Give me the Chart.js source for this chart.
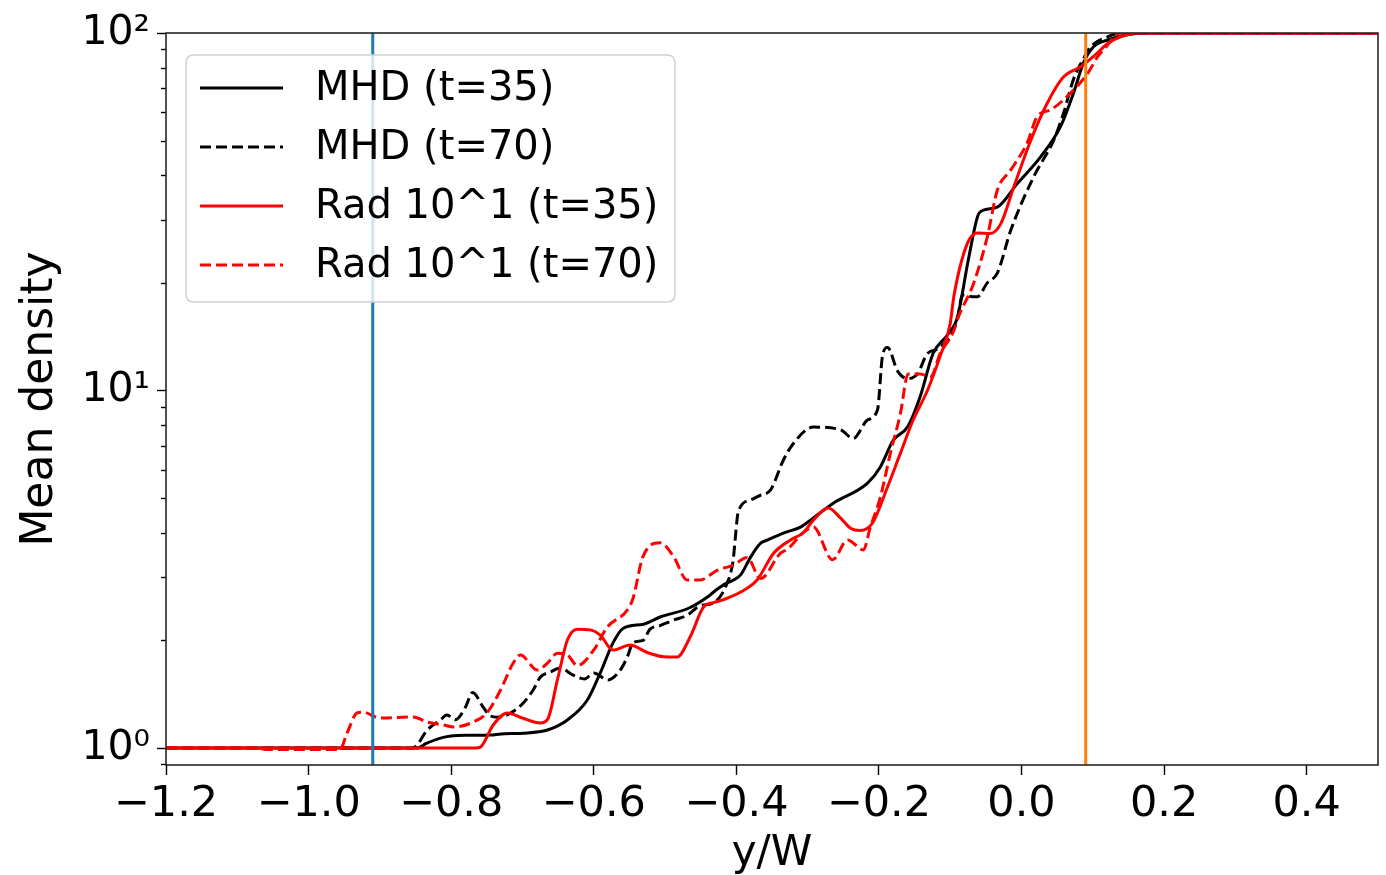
<!DOCTYPE html>
<html>
<head>
<meta charset="utf-8">
<script src="https://cdn.jsdelivr.net/npm/chart.js@4.4.1/dist/chart.umd.min.js"></script>
<style>
  html, body { margin: 0; padding: 0; background: #ffffff; }
  #wrap { width: 1386px; height: 875px; }
</style>
</head>
<body>
<div id="wrap"><canvas id="c" width="1386" height="875"></canvas></div>
<script>
// ---------------- data ----------------
const xMHD35 = [-1.2, -0.86, -0.848, -0.835, -0.815, -0.80, -0.78, -0.745, -0.73, -0.70, -0.665, -0.637, -0.609, -0.591, -0.573, -0.559, -0.53, -0.507, -0.467, -0.44, -0.43, -0.418, -0.404, -0.394, -0.38, -0.366, -0.356, -0.334, -0.31, -0.296, -0.264, -0.216, -0.198, -0.18, -0.16, -0.142, -0.124, -0.104, -0.09, -0.075, -0.062, -0.058, -0.034, -0.006, 0.027, 0.055, 0.073, 0.087, 0.101, 0.121, 0.15, 0.17, 0.5];
const yMHD35 = [1.0, 1.0, 1.0, 1.03, 1.066, 1.08, 1.085, 1.087, 1.095, 1.10, 1.123, 1.198, 1.362, 1.62, 1.968, 2.16, 2.22, 2.325, 2.46, 2.65, 2.75, 2.86, 2.95, 3.05, 3.42, 3.74, 3.82, 3.99, 4.15, 4.34, 4.84, 5.51, 6.11, 7.26, 7.9, 9.64, 12.7, 14.3, 16.0, 23.0, 30.5, 31.6, 32.6, 37.9, 45.1, 54.9, 68.0, 82.6, 91.5, 95.6, 99.0, 100, 100];

const xMHD70 = [-1.2, -0.855, -0.848, -0.834, -0.815, -0.806, -0.794, -0.78, -0.77, -0.755, -0.745, -0.735, -0.705, -0.685, -0.675, -0.661, -0.647, -0.629, -0.613, -0.60, -0.58, -0.563, -0.553, -0.545, -0.531, -0.521, -0.507, -0.488, -0.469, -0.451, -0.432, -0.413, -0.405, -0.397, -0.38, -0.366, -0.352, -0.334, -0.32, -0.292, -0.254, -0.236, -0.216, -0.202, -0.195, -0.188, -0.174, -0.16, -0.146, -0.132, -0.114, -0.09, -0.083, -0.069, -0.062, -0.048, -0.034, -0.015, 0.017, 0.045, 0.059, 0.073, 0.086, 0.097, 0.121, 0.139, 0.5];
const yMHD70 = [1.0, 1.0, 1.019, 1.12, 1.198, 1.237, 1.20, 1.3, 1.43, 1.30, 1.23, 1.22, 1.30, 1.453, 1.578, 1.63, 1.673, 1.60, 1.56, 1.62, 1.55, 1.65, 1.797, 1.968, 2.0, 2.15, 2.2, 2.28, 2.35, 2.5, 2.545, 2.89, 3.3, 4.6, 4.94, 5.1, 5.27, 6.39, 7.11, 7.9, 7.77, 7.34, 8.27, 8.83, 12.5, 13.2, 11.35, 10.8, 11.13, 12.69, 13.2, 15.8, 18.5, 18.3, 18.3, 20.0, 21.3, 28.1, 39.6, 50.1, 59.7, 74.3, 84.1, 91.5, 97.6, 100, 100];

const xRad35 = [-1.2, -0.766, -0.759, -0.741, -0.721, -0.70, -0.675, -0.665, -0.651, -0.637, -0.623, -0.605, -0.591, -0.573, -0.549, -0.525, -0.502, -0.483, -0.465, -0.446, -0.432, -0.418, -0.394, -0.371, -0.348, -0.324, -0.306, -0.292, -0.271, -0.254, -0.24, -0.226, -0.209, -0.188, -0.17, -0.152, -0.132, -0.114, -0.10, -0.095, -0.076, -0.062, -0.044, -0.029, -0.011, 0.013, 0.036, 0.059, 0.083, 0.101, 0.121, 0.139, 0.167, 0.5];
const yRad35 = [1.0, 1.0, 1.006, 1.16, 1.253, 1.213, 1.175, 1.2, 1.55, 2.004, 2.15, 2.14, 2.07, 1.88, 1.94, 1.85, 1.80, 1.797, 2.04, 2.48, 2.55, 2.6, 2.73, 2.95, 3.5, 3.82, 4.0, 4.34, 4.69, 4.4, 4.12, 4.06, 4.26, 5.37, 6.67, 8.27, 10.0, 12.5, 15.4, 18.3, 25.8, 27.6, 27.5, 29.3, 37.0, 50.1, 63.6, 75.4, 80.5, 86.0, 93.5, 97.6, 100, 100];

const xRad70 = [-1.2, -1.072, -1.06, -0.97, -0.956, -0.946, -0.932, -0.924, -0.90, -0.853, -0.834, -0.811, -0.797, -0.769, -0.749, -0.731, -0.713, -0.703, -0.679, -0.665, -0.651, -0.637, -0.623, -0.60, -0.581, -0.553, -0.545, -0.531, -0.507, -0.488, -0.469, -0.451, -0.427, -0.404, -0.385, -0.366, -0.338, -0.328, -0.306, -0.292, -0.265, -0.244, -0.222, -0.212, -0.198, -0.184, -0.17, -0.159, -0.142, -0.128, -0.114, -0.095, -0.09, -0.067, -0.048, -0.034, -0.015, 0.008, 0.022, 0.041, 0.069, 0.093, 0.107, 0.115, 0.139, 0.5];
const yRad70 = [1.0, 1.0, 0.99, 0.99, 0.99, 1.101, 1.253, 1.26, 1.213, 1.221, 1.182, 1.16, 1.145, 1.182, 1.26, 1.45, 1.728, 1.82, 1.652, 1.728, 1.84, 1.82, 1.70, 1.88, 2.18, 2.43, 2.62, 3.43, 3.75, 3.43, 2.95, 2.95, 3.14, 3.25, 3.41, 2.98, 3.51, 3.6, 4.01, 4.15, 3.36, 3.82, 3.58, 4.15, 5.03, 6.67, 8.6, 11.13, 11.13, 10.9, 12.69, 14.7, 15.8, 20.0, 26.9, 36.3, 41.4, 49.3, 58.4, 61.0, 68.0, 77.2, 86.0, 89.6, 100, 100];

const seriesLabels = ['MHD (t=35)', 'MHD (t=70)', 'Rad 10^1 (t=35)', 'Rad 10^1 (t=70)'];
const vlineBlueX = -0.91;
const vlineOrangeX = 0.09;

const xTicks = [-1.2, -1.0, -0.8, -0.6, -0.4, -0.2, 0.0, 0.2, 0.4];
const yMajorTicks = [1, 10, 100];
const yMinorTicks = [0.9, 2, 3, 4, 5, 6, 7, 8, 9, 20, 30, 40, 50, 60, 70, 80, 90];
const xMin = -1.2, xMax = 0.5;
const yMin = 0.8963, yMax = 100;

// ---------------- build ----------------
const pts = (xs, ys) => xs.map((x, i) => ({ x: x, y: ys[i] }));
const FONT = "'DejaVu Sans', sans-serif";
Chart.defaults.font.family = FONT;
Chart.defaults.color = '#000000';

const DASH = [11, 5];
const LW = 3;
const mk = (label, data, color, dash, order) => ({
  label, data, borderColor: color, backgroundColor: color, borderWidth: LW,
  borderDash: dash, pointRadius: 0, pointHoverRadius: 0, fill: false,
  cubicInterpolationMode: 'monotone', order: order, isSeries: true
});
const supers = { '0': '\u2070', '1': '\u00B9', '2': '\u00B2' };

const datasets = [
  mk(seriesLabels[0], pts(xMHD35, yMHD35), '#000000', [], 4),
  mk(seriesLabels[1], pts(xMHD70, yMHD70), '#000000', DASH, 3),
  mk(seriesLabels[2], pts(xRad35, yRad35), '#ff0000', [], 2),
  mk(seriesLabels[3], pts(xRad70, yRad70), '#ff0000', DASH, 1),
  { label: 'vline1', data: [{ x: vlineBlueX, y: yMin }, { x: vlineBlueX, y: yMax }], borderColor: '#1f77b4', borderWidth: 3, pointRadius: 0, tension: 0, order: 0 },
  { label: 'vline2', data: [{ x: vlineOrangeX, y: yMin }, { x: vlineOrangeX, y: yMax }], borderColor: '#ff7f0e', borderWidth: 3, pointRadius: 0, tension: 0, order: 0 }
];

const framePlugin = {
  id: 'frameAndMinor',
  afterDatasetsDraw(chart) {
    const ctx = chart.ctx, ca = chart.chartArea, ys = chart.scales.y;
    ctx.save();
    ctx.strokeStyle = '#000000';
    ctx.lineWidth = 1.4;
    ctx.setLineDash([]);
    yMinorTicks.forEach(v => {
      const py = Math.round(ys.getPixelForValue(v)) + 0.5;
      ctx.beginPath();
      ctx.moveTo(ca.left - 5, py);
      ctx.lineTo(ca.left, py);
      ctx.stroke();
    });
    ctx.strokeStyle = '#262626';
    ctx.lineWidth = 1.6;
    ctx.strokeRect(ca.left, ca.top, ca.right - ca.left, ca.bottom - ca.top);
    // legend
    const x0 = ca.left + 20, y0 = ca.top + 22, w = 489, h = 247, r = 8;
    ctx.beginPath();
    ctx.moveTo(x0 + r, y0);
    ctx.lineTo(x0 + w - r, y0); ctx.quadraticCurveTo(x0 + w, y0, x0 + w, y0 + r);
    ctx.lineTo(x0 + w, y0 + h - r); ctx.quadraticCurveTo(x0 + w, y0 + h, x0 + w - r, y0 + h);
    ctx.lineTo(x0 + r, y0 + h); ctx.quadraticCurveTo(x0, y0 + h, x0, y0 + h - r);
    ctx.lineTo(x0, y0 + r); ctx.quadraticCurveTo(x0, y0, x0 + r, y0);
    ctx.closePath();
    ctx.fillStyle = 'rgba(255,255,255,0.8)';
    ctx.fill();
    ctx.strokeStyle = '#d0d0d0';
    ctx.lineWidth = 1.5;
    ctx.stroke();
    chart.data.datasets.filter(d => d.isSeries).forEach((ds, i) => {
      const cy = y0 + 33 + i * 59;
      ctx.strokeStyle = ds.borderColor;
      ctx.lineWidth = ds.borderWidth;
      ctx.setLineDash(ds.borderDash || []);
      ctx.beginPath();
      ctx.moveTo(x0 + 14, cy);
      ctx.lineTo(x0 + 97, cy);
      ctx.stroke();
      ctx.setLineDash([]);
      ctx.fillStyle = '#000000';
      ctx.font = '40px ' + FONT;
      ctx.textBaseline = 'middle';
      ctx.textAlign = 'left';
      ctx.fillText(ds.label, x0 + 129, cy + 2);
    });
    ctx.restore();
  }
};

new Chart(document.getElementById('c'), {
  type: 'line',
  data: { datasets },
  options: {
    responsive: false,
    animation: false,
    devicePixelRatio: 1,
    layout: { padding: { top: 33, right: 8, left: 0, bottom: 0 } },
    plugins: { legend: { display: false }, tooltip: { enabled: false } },
    scales: {
      x: {
        type: 'linear', min: xMin, max: xMax,
        afterBuildTicks: s => { s.ticks = xTicks.map(v => ({ value: v })); },
        afterFit: s => { s.height = 110; },
        grid: { display: true, drawOnChartArea: false, tickLength: 10, tickWidth: 1.4, tickColor: '#000' },
        border: { display: false },
        ticks: {
          autoSkip: false, maxRotation: 0, padding: 4,
          font: { size: 43 }, color: '#000',
          callback: v => (v < -1e-9 ? '\u2212' : '') + Math.abs(v).toFixed(1)
        },
        title: { display: true, text: 'y/W', font: { size: 42 }, color: '#000', padding: { top: 0, bottom: -4 } }
      },
      y: {
        type: 'logarithmic', min: yMin, max: yMax,
        afterBuildTicks: s => { s.ticks = yMajorTicks.map(v => ({ value: v })); },
        afterFit: s => { s.width = 166; },
        grid: { display: true, drawOnChartArea: false, tickLength: 9, tickWidth: 1.4, tickColor: '#000' },
        border: { display: false },
        ticks: {
          autoSkip: false, padding: 7, font: { size: 41 }, color: '#000',
          callback: v => '10' + supers[String(Math.round(Math.log10(v)))]
        },
        title: { display: true, text: 'Mean density', font: { size: 44 }, color: '#000', padding: { top: 14, bottom: 0 } }
      }
    }
  },
  plugins: [framePlugin]
});
</script>
</body>
</html>
